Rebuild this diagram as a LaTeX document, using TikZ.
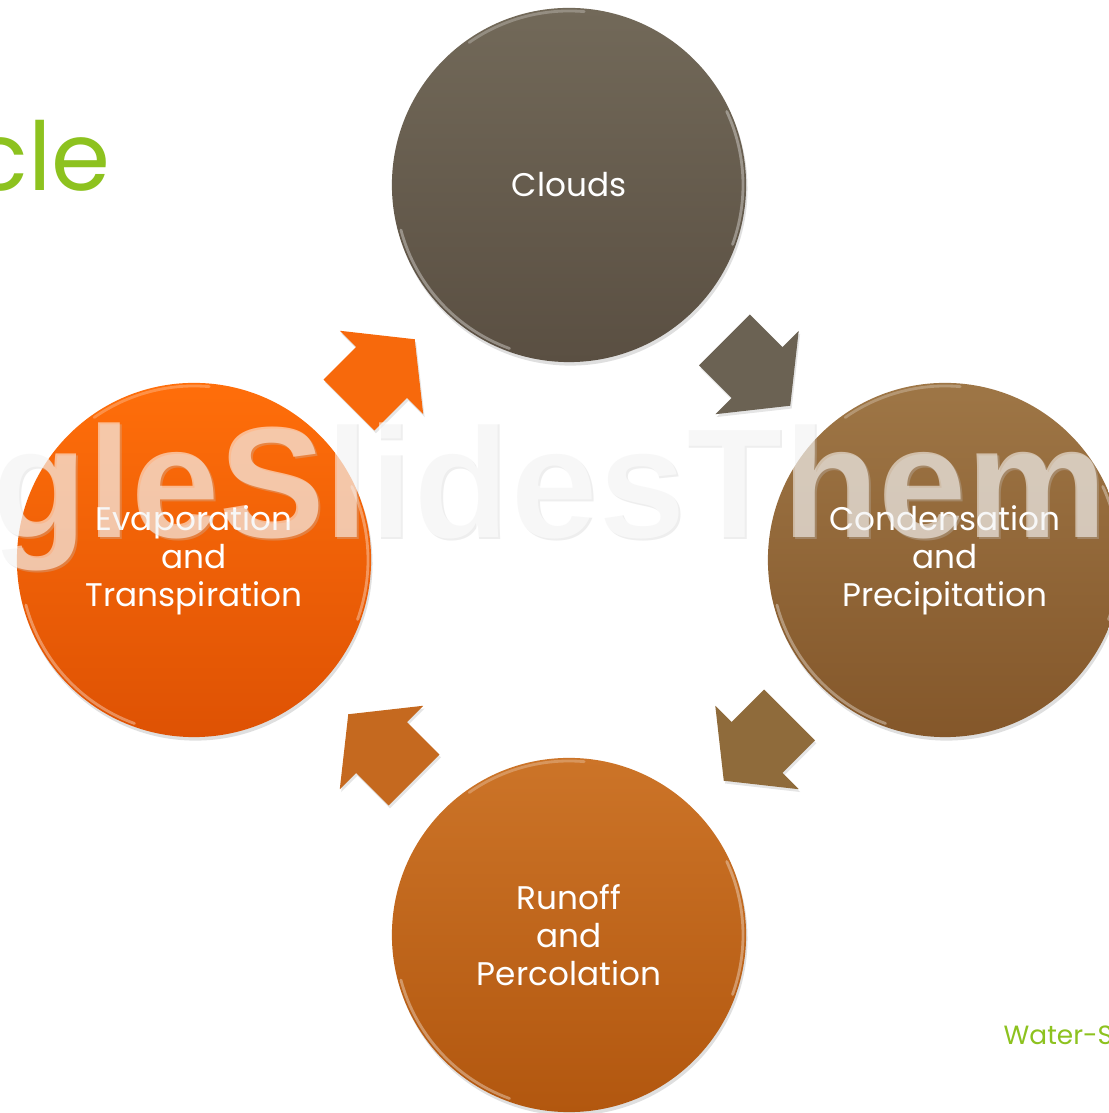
\documentclass[tikz,border=0pt]{standalone}
\usepackage{fontspec}
\setmainfont{Poppins}
\newfontfamily\markfont{Liberation Sans}
\usetikzlibrary{calc, shadows}

\definecolor{leaf}{HTML}{8DC21F}
\definecolor{cloudtop}{HTML}{726959}
\definecolor{cloudbot}{HTML}{5A4F42}
\definecolor{condtop}{HTML}{9E7646}
\definecolor{condbot}{HTML}{84572A}
\definecolor{runtop}{HTML}{CC7428}
\definecolor{runbot}{HTML}{B2570F}
\definecolor{evaptop}{HTML}{FF6E0A}
\definecolor{evapbot}{HTML}{DE5204}
\definecolor{arrowone}{HTML}{F7690C}
\definecolor{arrowtwo}{HTML}{6B6253}
\definecolor{arrowthree}{HTML}{8F6B3B}
\definecolor{arrowfour}{HTML}{C5691F}

\tikzset{
  bubble/.style={circle, minimum size=3.54cm, inner sep=0, text=white, align=center,
    font=\fontsize{9.3}{10.8}\selectfont,
    drop shadow={shadow xshift=0.4pt, shadow yshift=-1pt, opacity=0.25}},
  rim/.style={white, line width=0.8pt, opacity=0.35, line cap=round},
  cyclearrow/.pic={
    \fill[pic actions, drop shadow={shadow xshift=0.4pt, shadow yshift=-0.8pt, opacity=0.2}]
      (-46,-36) -- (0,-36) -- (0,-59) -- (47,0) -- (0,59) -- (0,36) -- (-46,36) -- cycle;
  }
}

\begin{document}
\begin{tikzpicture}[x=0.01cm, y=0.01cm]
  \fill[white] (0,0) rectangle (1108,1113);
  \useasboundingbox (0,0) rectangle (1108,1113);

  % circles
  \node[bubble, top color=cloudtop, bottom color=cloudbot] (clouds) at (569,928) {Clouds};
  \node[bubble, top color=condtop, bottom color=condbot] (cond) at (945,553) {Condensation\\and\\Precipitation};
  \node[bubble, top color=runtop, bottom color=runbot] (runoff) at (569,178) {Runoff\\and\\Percolation};
  \node[bubble, top color=evaptop, bottom color=evapbot] (evap) at (194,553) {Evaporation\\and\\Transpiration};

  \foreach \n in {clouds, cond, runoff, evap} {
    \draw[rim] ([shift={(195:174)}]\n.center) arc[start angle=195, end angle=250, radius=174];
    \draw[rim] ([shift={(-20:174)}]\n.center) arc[start angle=-20, end angle=25, radius=174];
    \draw[rim, opacity=0.25] ([shift={(85:174)}]\n.center) arc[start angle=85, end angle=125, radius=174];
  }

  % arrows between the circles
  \coordinate (a1) at ($(evap)!0.5!(clouds)$);
  \coordinate (a2) at ($(clouds)!0.5!(cond)$);
  \coordinate (a3) at ($(cond)!0.5!(runoff)$);
  \coordinate (a4) at ($(runoff)!0.5!(evap)$);
  \pic[fill=arrowone, rotate=45] at (a1) {cyclearrow};
  \pic[fill=arrowtwo, rotate=-45] at (a2) {cyclearrow};
  \pic[fill=arrowthree, rotate=-135] at (a3) {cyclearrow};
  \pic[fill=arrowfour, rotate=135] at (a4) {cyclearrow};

  % watermark
  \node[anchor=base west, inner sep=0, font=\markfont\bfseries\fontsize{45}{45}\selectfont,
    text=black!22, text opacity=0.3] (markshade) at (-8,573) {gleSlidesThem};
  \node[anchor=base west, inner sep=0, font=\markfont\bfseries\fontsize{45}{45}\selectfont,
    text=white, text opacity=0.55] (mark) at (-10,575) {gleSlidesThem};

  % cut-off slide texts
  \node[anchor=base east, inner sep=0, text=leaf, font=\fontsize{27}{27}\selectfont] (title) at (111,922) {cle};
  \node[anchor=base west, inner sep=0, text=leaf, font=\fontsize{7.5}{7.5}\selectfont] (footer) at (1003,68) {Water-S};
\end{tikzpicture}
\end{document}
